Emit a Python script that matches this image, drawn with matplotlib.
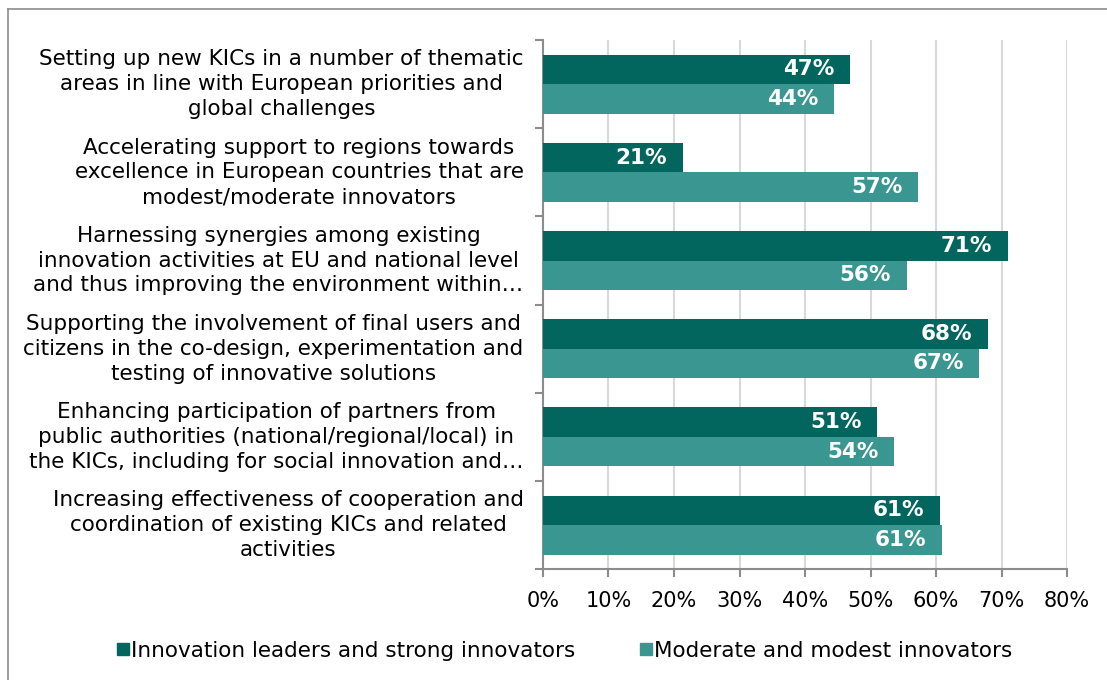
import matplotlib.pyplot as plt
from matplotlib.lines import Line2D
import numpy as np

categories = [
    "Setting up new KICs in a number of thematic\nareas in line with European priorities and\nglobal challenges",
    "Accelerating support to regions towards\nexcellence in European countries that are\nmodest/moderate innovators",
    "Harnessing synergies among existing\ninnovation activities at EU and national level\nand thus improving the environment within\u2026",
    "Supporting the involvement of final users and\ncitizens in the co-design, experimentation and\ntesting of innovative solutions",
    "Enhancing participation of partners from\npublic authorities (national/regional/local) in\nthe KICs, including for social innovation and\u2026",
    "Increasing effectiveness of cooperation and\ncoordination of existing KICs and related\nactivities",
]
leaders = [46.8, 21.3, 71.0, 67.9, 51.0, 60.6]
moderate = [44.4, 57.3, 55.5, 66.6, 53.6, 60.9]
series_names = ["Innovation leaders and strong innovators", "Moderate and modest innovators"]

dark = "#03665E"
light = "#3A9690"
axis_grey = "#8c8c8c"

plt.rcParams['font.family'] = ['DejaVu Sans']

fig = plt.figure(figsize=(11.07, 6.80), dpi=100)
ax = fig.add_axes([0.4905, 0.163, 0.4734, 0.778])

y = np.arange(len(categories))
h = 0.335
ax.barh(y - h / 2, leaders, height=h, color=dark, zorder=3)
ax.barh(y + h / 2, moderate, height=h, color=light, zorder=3)

for yi, v in zip(y - h / 2, leaders):
    ax.text(v - 2.4, yi, f"{v:.0f}%", ha='right', va='center', color='white',
            fontsize=15.5, fontweight='bold', zorder=4)
for yi, v in zip(y + h / 2, moderate):
    ax.text(v - 2.4, yi, f"{v:.0f}%", ha='right', va='center', color='white',
            fontsize=15.5, fontweight='bold', zorder=4)

ax.set_xlim(0, 80)
ax.set_ylim(len(categories) - 0.5, -0.5)
ax.set_xticks(np.arange(0, 81, 10))
ax.set_xticklabels([f"{t}%" for t in range(0, 81, 10)], fontsize=15)
ax.xaxis.grid(True, color="#d9d9d9", linewidth=1.5, zorder=0)

ax.set_yticks(y)
ax.set_yticklabels(categories, fontsize=15.5, linespacing=1.3)
for lab in ax.get_yticklabels():
    lab.set_multialignment('center')
    lab.set_verticalalignment('center')
ax.set_yticks(np.arange(-0.5, len(categories)), minor=True)
ax.tick_params(axis='y', which='major', length=0, pad=14)
ax.tick_params(axis='y', which='minor', length=6, color=axis_grey, width=1.5)
ax.tick_params(axis='x', length=6, color=axis_grey, width=1.5, pad=10)

for s in ['top', 'right']:
    ax.spines[s].set_visible(False)
for s in ['left', 'bottom']:
    ax.spines[s].set_color(axis_grey)
    ax.spines[s].set_linewidth(1.5)

handles = [
    Line2D([], [], marker='s', linestyle='none', markersize=8, color=dark),
    Line2D([], [], marker='s', linestyle='none', markersize=8, color=light),
]
fig.legend(handles, series_names, loc='center', bbox_to_anchor=(0.51, 0.043),
           ncol=2, frameon=False, fontsize=15.5, handletextpad=0.05,
           columnspacing=3.0, handlelength=0.6)

# outer chart frame (left and top edges visible)
fig.add_artist(Line2D([8 / 1107, 8 / 1107], [0, 1 - 9 / 680], transform=fig.transFigure,
                      color=axis_grey, linewidth=1.2))
fig.add_artist(Line2D([8 / 1107, 1], [1 - 9 / 680, 1 - 9 / 680], transform=fig.transFigure,
                      color=axis_grey, linewidth=1.2))

fig.savefig("out.png", dpi=100)
